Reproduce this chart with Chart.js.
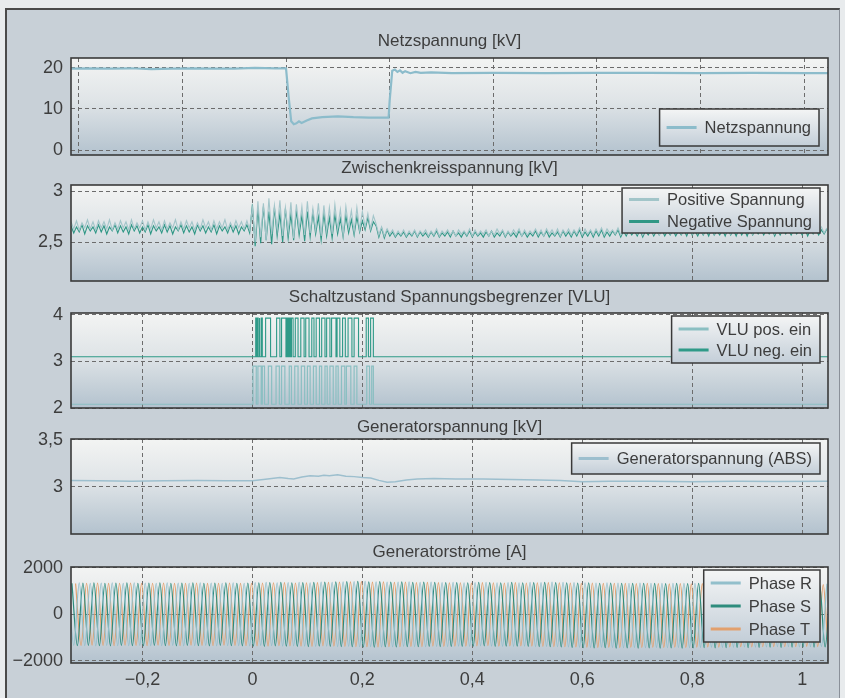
<!DOCTYPE html>
<html><head><meta charset="utf-8">
<style>
html,body{margin:0;padding:0;width:845px;height:698px;overflow:hidden;background:#e8ebed;}
#frame{position:absolute;left:5px;top:8px;width:835px;height:692px;background:#c8d0d7;border-left:2px solid #4a4a4a;border-top:2px solid #4a4a4a;border-right:1px solid #8a9099;box-sizing:border-box;}
canvas{position:absolute;left:0;}
</style>
<script src="https://cdn.jsdelivr.net/npm/chart.js@4.4.0/dist/chart.umd.min.js"></script>
</head><body>
<div id="frame"></div>
<canvas id="c1" width="845" height="147" style="top:28px"></canvas>
<canvas id="c2" width="845" height="146" style="top:155px"></canvas>
<canvas id="c3" width="845" height="145" style="top:283px"></canvas>
<canvas id="c4" width="845" height="141" style="top:413px"></canvas>
<canvas id="c5" width="845" height="161" style="top:537px"></canvas>
<script>
// ---------- tick labels ----------
const xTicksTop = [-0.4, -0.2, 0, 0.2, 0.4, 0.6, 0.8, 1.0];
const xTicks = [-0.2, 0, 0.2, 0.4, 0.6, 0.8, 1.0];
const yTicks1 = [0, 10, 20];
const yTicks2 = [2.5, 3];
const yTicks3 = [2, 3, 4];
const yTicks4 = [3, 3.5];
const yTicks5 = [-2000, 0, 2000];

// ---------- Netzspannung [kV] ----------
const netzT = [-0.415,-0.38,-0.34,-0.3,-0.26,-0.22,-0.18,-0.14,-0.1,-0.06,-0.02,0,0.005,0.01,0.015,0.02,0.025,0.03,0.04,0.05,0.07,0.1,0.13,0.16,0.19,0.198,0.2,0.205,0.21,0.215,0.22,0.225,0.23,0.24,0.25,0.26,0.28,0.32,0.4,0.5,0.6,0.7,0.8,0.9,1.0,1.046];
const netzV = [19.8,19.9,19.8,19.9,19.7,19.8,19.9,19.8,19.8,20.0,19.9,19.9,13.0,7.0,6.3,6.5,7.0,6.6,7.2,7.7,8.0,8.2,8.0,7.9,7.9,7.9,12.0,19.3,19.6,19.0,19.4,18.8,19.2,18.7,19.0,18.8,18.9,18.7,18.8,18.7,18.8,18.8,18.7,18.8,18.7,18.7];

// ---------- Zwischenkreisspannung [kV], values in 0.01 kV, sampled every 5 ms from -0.33 s ----------
const ZK_T0 = -0.33, ZK_DT = 0.005;
const zkPos = [
270,263,271,262,269,264,272,263,270,262,
271,264,270,263,272,262,269,263,271,264,
270,262,272,263,269,264,271,262,270,263,
272,264,270,262,271,263,269,264,272,262,
270,263,271,264,270,262,269,263,272,264,
270,262,271,263,270,264,272,262,269,263,
271,264,270,263,271,262,
284,250,290,255,288,252,293,258,286,262,
291,256,284,260,289,254,287,263,285,257,
290,259,283,262,288,256,286,261,284,258,
287,263,282,257,285,264,281,260,284,262,
280,265,278,263,276,
268,257,265,256,263,258,262,256,261,257,
262,256,261,257,262,256,261,258,262,256,
261,257,263,256,261,258,262,257,261,256,
262,258,261,257,263,256,262,257,261,258,
262,256,261,257,263,258,262,256,261,257,
262,258,263,256,262,257,261,258,263,257,
262,256,263,258,262,257,263,256,262,258,
263,257,262,258,264,257,263,258,262,257,
263,258,264,257,263,259,262,258,264,257,
263,258,262,259,264,258,263,257,264,259,
263,258,264,257,263,259,264,258,263,259,
264,258,263,259,265,258,264,259,263,258,
264,259,265,258,264,260,263,259,265,258,
264,259,263,260,265,259,264,258,265,260,
264,259,265,260,264,258,265,259,264,260,
265,259,264,260,265,259,264,260,265,259,
264,260,265,259,264];
const zkNeg = [
266,259,265,260,267,258,266,261,265,259,
267,260,266,258,265,261,267,259,266,260,
265,258,267,261,266,259,265,260,267,258,
266,261,265,259,267,260,266,258,265,261,
267,259,266,260,265,258,267,261,266,259,
265,260,267,258,266,261,265,259,267,260,
266,258,265,261,267,259,
287,246,282,249,285,252,280,248,284,256,
278,250,283,254,277,252,281,257,276,251,
280,255,279,258,275,252,278,256,274,254,
277,258,273,255,276,259,272,257,275,260,
271,262,274,261,270,
266,255,264,254,262,256,260,255,259,256,
260,255,259,256,261,255,260,256,259,255,
260,256,261,255,259,256,260,255,261,256,
259,255,260,256,261,255,260,256,259,255,
260,256,261,255,259,256,261,255,260,256,
259,255,261,256,260,255,259,256,261,255,
260,256,261,255,259,256,260,255,261,256,
260,255,261,256,262,255,260,256,261,255,
261,256,262,255,260,256,261,257,262,255,
261,256,262,257,261,256,262,255,261,257,
262,256,261,257,262,256,261,257,262,256,
261,257,262,256,263,257,261,256,262,257,
262,256,263,257,261,257,262,256,263,257,
262,256,263,257,262,256,263,257,262,258,
263,257,262,258,263,256,262,257,263,258,
262,257,263,258,262,257,263,256,262,258,
263,257,262,258,263];

// ---------- Schaltzustand Spannungsbegrenzer [VLU] ----------
const vluPosLevels = [2.08, 2.9];   // off, on
const vluNegLevels = [3.1, 3.93];   // off, on
const vluPosOn  = [0.001,0.010,0.018,0.029,0.043,0.053,0.067,0.077,0.089,0.100,0.111,0.122,0.132,0.141,0.152,0.162,0.171,0.185,0.208,0.217];
const vluPosOff = [0.007,0.016,0.022,0.035,0.049,0.059,0.071,0.083,0.095,0.105,0.116,0.126,0.136,0.147,0.156,0.168,0.179,0.190,0.213,0.220];
const vluNegOn  = [0.006,0.009,0.012,0.016,0.024,0.044,0.053,0.063,0.067,0.071,0.078,0.088,0.097,0.108,0.116,0.126,0.135,0.144,0.154,0.164,0.174,0.185,0.207,0.215];
const vluNegOff = [0.0075,0.0105,0.0135,0.018,0.033,0.050,0.061,0.065,0.069,0.074,0.083,0.094,0.103,0.112,0.122,0.132,0.141,0.152,0.159,0.169,0.181,0.193,0.211,0.220];

// ---------- Generatorspannung [kV] ----------
const genT = [-0.33,-0.28,-0.22,-0.16,-0.1,-0.05,0,0.02,0.05,0.065,0.075,0.09,0.105,0.12,0.13,0.14,0.155,0.17,0.185,0.2,0.215,0.23,0.245,0.26,0.28,0.3,0.33,0.37,0.42,0.47,0.52,0.56,0.6,0.65,0.72,0.8,0.88,0.95,1.047];
const genV = [3.07,3.065,3.06,3.065,3.068,3.065,3.065,3.08,3.1,3.09,3.085,3.105,3.12,3.115,3.125,3.12,3.13,3.115,3.11,3.1,3.095,3.07,3.05,3.055,3.075,3.085,3.09,3.085,3.085,3.08,3.075,3.07,3.055,3.06,3.06,3.055,3.06,3.058,3.06];

// ---------- Generatorströme [A], peak/trough values every 10 ms ----------
const PH_T0 = -0.335, PH_DT = 0.01;
const PH_SHIFT = [0, 0.02 / 3, 0.04 / 3];
const phaseR = [
1350,-1340,1360,-1350,1340,-1360,1350,-1340,1360,-1350,
1340,-1350,1360,-1340,1350,-1360,1340,-1350,1360,-1340,
1350,-1360,1340,-1350,1360,-1340,1350,-1360,1340,-1350,
1360,-1350,1340,-1360,1370,-1340,1380,-1350,1360,-1370,
1370,-1360,1380,-1370,1360,-1380,1390,-1370,1380,-1390,
1400,-1380,1410,-1400,1420,-1390,1400,-1410,1390,-1400,
1390,-1380,1400,-1390,1380,-1400,1390,-1380,1370,-1390,
1380,-1370,1360,-1380,1370,-1360,1380,-1370,1360,-1380,
1370,-1380,1360,-1370,1380,-1390,1370,-1380,1390,-1400,
1380,-1410,1370,-1420,1360,-1430,1350,-1420,1360,-1430,
1350,-1440,1340,-1430,1350,-1440,1340,-1430,1330,-1440,
1340,-1430,1330,-1440,1340,-1430,1320,-1420,1330,-1430,
1320,-1420,1330,-1410,1320,-1420,1310,-1410,1320,-1400,
1310,-1400,1320,-1410,1300,-1400,1310,-1390,1320];
const phaseS = [
1340,-1350,1350,-1340,1360,-1350,1340,-1360,1350,-1340,
1360,-1350,1340,-1360,1350,-1340,1360,-1350,1340,-1360,
1350,-1340,1360,-1350,1340,-1360,1350,-1340,1360,-1350,
1340,-1360,1350,-1370,1360,-1380,1370,-1360,1380,-1370,
1360,-1380,1370,-1390,1380,-1370,1390,-1380,1400,-1390,
1410,-1400,1420,-1410,1400,-1420,1410,-1400,1390,-1410,
1400,-1390,1380,-1400,1390,-1380,1380,-1390,1370,-1380,
1370,-1380,1360,-1370,1380,-1360,1370,-1380,1360,-1370,
1380,-1370,1360,-1380,1370,-1390,1380,-1400,1370,-1410,
1360,-1430,1350,-1440,1360,-1450,1340,-1440,1350,-1460,
1340,-1450,1330,-1460,1340,-1450,1330,-1460,1320,-1450,
1330,-1460,1320,-1450,1330,-1440,1320,-1450,1310,-1440,
1320,-1430,1310,-1440,1300,-1430,1310,-1420,1300,-1430,
1310,-1420,1300,-1410,1310,-1420,1290,-1410,1300];
const phaseT = [
1330,-1340,1340,-1330,1350,-1340,1330,-1350,1340,-1330,
1350,-1340,1330,-1350,1340,-1330,1350,-1340,1330,-1350,
1340,-1330,1350,-1340,1330,-1350,1340,-1330,1350,-1340,
1330,-1350,1340,-1360,1350,-1370,1360,-1350,1370,-1360,
1350,-1370,1360,-1380,1370,-1360,1380,-1370,1390,-1380,
1400,-1390,1410,-1400,1390,-1410,1400,-1390,1380,-1400,
1390,-1380,1370,-1390,1380,-1370,1370,-1380,1360,-1370,
1360,-1370,1350,-1360,1370,-1350,1360,-1370,1350,-1360,
1370,-1360,1350,-1370,1360,-1380,1370,-1390,1360,-1400,
1350,-1410,1340,-1420,1350,-1430,1330,-1420,1340,-1430,
1330,-1420,1320,-1430,1330,-1420,1320,-1430,1310,-1420,
1320,-1430,1310,-1420,1320,-1410,1310,-1420,1300,-1410,
1310,-1400,1300,-1410,1290,-1400,1300,-1390,1290,-1400,
1300,-1390,1290,-1380,1300,-1390,1280,-1380,1290];

// ---------- helpers ----------
const xy = (ts, vs) => ts.map((t, i) => ({x: t, y: vs[i]}));
const sampled = (vs, t0, dt, scale) => vs.map((v, i) => ({x: t0 + i * dt, y: v * scale}));
function pulses(on, off, levels, tMin, tMax) {
  const pts = [{x: tMin, y: levels[0]}];
  on.forEach((s, i) => {
    pts.push({x: s, y: levels[0]}, {x: s, y: levels[1]}, {x: off[i], y: levels[1]}, {x: off[i], y: levels[0]});
  });
  pts.push({x: tMax, y: levels[0]});
  return pts;
}
const fmt = v => String(v).replace('.', ',').replace('-', '\u2212');
const FONT = '"Liberation Sans", Arial, Helvetica, sans-serif';
const TXT = '#3d3d3d';
Chart.defaults.font.family = FONT;
Chart.defaults.font.size = 18;
Chart.defaults.color = TXT;

const framePlugin = {
  id: 'frame',
  beforeDraw(chart) {
    const {ctx, chartArea: a} = chart;
    const g = ctx.createLinearGradient(0, a.top, 0, a.bottom);
    g.addColorStop(0, '#f3f4f3'); g.addColorStop(0.45, '#dfe4e7'); g.addColorStop(1, '#b3c2ce');
    ctx.save(); ctx.fillStyle = g; ctx.fillRect(a.left, a.top, a.right - a.left, a.bottom - a.top); ctx.restore();
  },
  afterDraw(chart, args, opts) {
    const {ctx, chartArea: a} = chart;
    ctx.save();
    ctx.strokeStyle = '#3a3a3a'; ctx.lineWidth = 1.6;
    ctx.strokeRect(a.left, a.top, a.right - a.left, a.bottom - a.top);
    const L = opts.legend;
    if (L) {
      ctx.font = '16.5px ' + FONT;
      const ds = chart.data.datasets;
      const tw = Math.max(...ds.map(d => ctx.measureText(d.label).width));
      const w = 7 + 30 + 8 + tw + 8;
      const x = a.right - L.right - w, y = a.top + L.top, h = L.height;
      const g = ctx.createLinearGradient(0, y, 0, y + h);
      g.addColorStop(0, '#f4f5f5'); g.addColorStop(1, '#c3ced8');
      ctx.fillStyle = g; ctx.fillRect(x, y, w, h);
      ctx.strokeStyle = '#3a3a3a'; ctx.lineWidth = 1.5; ctx.strokeRect(x, y, w, h);
      ds.forEach((d, i) => {
        const cy = y + h / 2 + (i - (ds.length - 1) / 2) * L.rowH;
        ctx.strokeStyle = d.borderColor; ctx.lineWidth = 3;
        ctx.beginPath(); ctx.moveTo(x + 7, cy); ctx.lineTo(x + 37, cy); ctx.stroke();
        ctx.fillStyle = TXT; ctx.textBaseline = 'middle'; ctx.textAlign = 'left';
        ctx.fillText(d.label, x + 45, cy + 1);
      });
    }
    ctx.restore();
  }
};

function makeChart(id, datasets, c) {
  const gridOpts = {color: '#6c6c6c', lineWidth: 1, drawTicks: false};
  const borderOpts = {display: false, dash: [4, 3]};
  return new Chart(document.getElementById(id), {
    type: 'line',
    data: {datasets},
    plugins: [framePlugin],
    options: {
      responsive: false, animation: false, events: [], devicePixelRatio: 1,
      layout: {padding: {left: 0, right: 17, top: 0, bottom: 0}},
      elements: {point: {radius: 0}, line: {tension: 0, borderWidth: 1.2}},
      plugins: {
        legend: {display: false}, tooltip: {enabled: false},
        title: {display: true, fullSize: false, text: c.title, padding: c.titlePad, font: {size: 17, weight: 'normal'}, color: TXT},
        frame: {legend: c.legend}
      },
      scales: {
        x: {
          type: 'linear', min: c.xMin, max: c.xMax,
          afterBuildTicks: s => { s.ticks = c.xTicks.map(v => ({value: v})); },
          afterFit: s => { s.height = c.xH; },
          ticks: {display: c.xLabels, padding: 6, callback: v => fmt(v), maxRotation: 0, autoSkip: false},
          grid: gridOpts, border: borderOpts
        },
        y: {
          type: 'linear', min: c.yMin, max: c.yMax,
          afterBuildTicks: s => { s.ticks = c.yTicks.map(v => ({value: v})); },
          afterFit: s => { s.width = 71; },
          ticks: {padding: 8, callback: v => fmt(v), autoSkip: false},
          grid: gridOpts, border: borderOpts
        }
      }
    }
  });
}

makeChart('c1', [
  {label: 'Netzspannung', data: xy(netzT, netzV), borderColor: '#8cbccb', borderWidth: 2.2}
], {title: 'Netzspannung [kV]', titlePad: {top: 3, bottom: 6.6}, xMin: -0.415, xMax: 1.046, xTicks: xTicksTop, xLabels: false, xH: 20,
    yMin: -1.2, yMax: 22.4, yTicks: yTicks1, legend: {right: 9, top: 51, height: 37, rowH: 22}});

makeChart('c2', [
  {label: 'Positive Spannung', data: sampled(zkPos, ZK_T0, ZK_DT, 0.01), borderColor: '#a2c5c9', borderWidth: 1.1},
  {label: 'Negative Spannung', data: sampled(zkNeg, ZK_T0, ZK_DT, 0.01), borderColor: '#2f9785', borderWidth: 1.1}
], {title: 'Zwischenkreisspannung [kV]', titlePad: {top: 3, bottom: 6.6}, xMin: -0.33, xMax: 1.047, xTicks: xTicks, xLabels: false, xH: 20,
    yMin: 2.12, yMax: 3.06, yTicks: yTicks2, legend: {right: 8, top: 3, height: 45, rowH: 22}});

makeChart('c3', [
  {label: 'VLU pos. ein', data: pulses(vluPosOn, vluPosOff, vluPosLevels, -0.33, 1.047), borderColor: '#8bbfc2', borderWidth: 1.2},
  {label: 'VLU neg. ein', data: pulses(vluNegOn, vluNegOff, vluNegLevels, -0.33, 1.047), borderColor: '#2f9a88', borderWidth: 1.1}
], {title: 'Schaltzustand Spannungsbegrenzer [VLU]', titlePad: {top: 3.8, bottom: 5.8}, xMin: -0.33, xMax: 1.047, xTicks: xTicks, xLabels: false, xH: 20,
    yMin: 2.0, yMax: 4.04, yTicks: yTicks3, legend: {right: 8, top: 3, height: 47, rowH: 21}});

makeChart('c4', [
  {label: 'Generatorspannung (ABS)', data: xy(genT, genV), borderColor: '#9dbfce', borderWidth: 1.5}
], {title: 'Generatorspannung [kV]', titlePad: {top: 3.8, bottom: 1.8}, xMin: -0.33, xMax: 1.047, xTicks: xTicks, xLabels: false, xH: 20,
    yMin: 2.5, yMax: 3.51, yTicks: yTicks4, legend: {right: 8, top: 4, height: 31, rowH: 22}});

makeChart('c5', [
  {label: 'Phase R', data: sampled(phaseR, PH_T0 + PH_SHIFT[0], PH_DT, 1), borderColor: '#92bfcb', cubicInterpolationMode: 'monotone'},
  {label: 'Phase S', data: sampled(phaseS, PH_T0 + PH_SHIFT[1], PH_DT, 1), borderColor: '#2e8c7d', cubicInterpolationMode: 'monotone'},
  {label: 'Phase T', data: sampled(phaseT, PH_T0 + PH_SHIFT[2], PH_DT, 1), borderColor: '#e2a06d', cubicInterpolationMode: 'monotone'}
], {title: 'Generatorströme [A]', titlePad: {top: 4.8, bottom: 4.8}, xMin: -0.33, xMax: 1.047, xTicks: xTicks, xLabels: true, xH: 35,
    yMin: -2100, yMax: 2040, yTicks: yTicks5, legend: {right: 8, top: 3, height: 72, rowH: 23}});
</script>
</body></html>
